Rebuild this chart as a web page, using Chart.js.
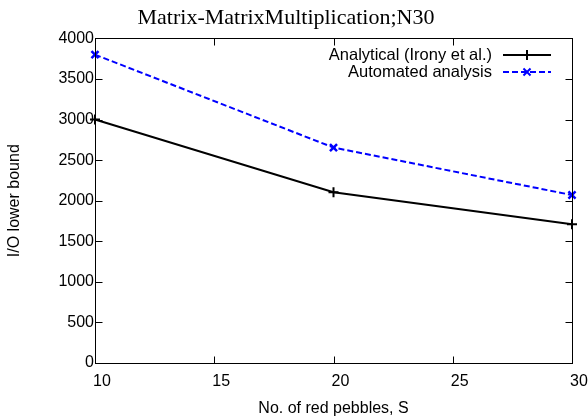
<!DOCTYPE html>
<html lang="en">
<head>
  <meta charset="UTF-8" />
  <title>Matrix-MatrixMultiplication;N30</title>
  <script src="https://cdn.jsdelivr.net/npm/chart.js"></script>
  <style>
    body { margin: 0; background: #fff; }
    #wrap { width: 588px; height: 419px; }
  </style>
</head>
<body>
  <div id="wrap"><canvas id="ioChart" width="588" height="419"></canvas></div>

  <script>
    // values
    const pebbles = [10, 20, 30];
    const analytical = [3000, 2105, 1710];
    const automated = [3800, 2655, 2070];
    const seriesNames = ['Analytical (Irony et al.)', 'Automated analysis'];

    const sans = "'Liberation Sans', Arial, sans-serif";

    // gnuplot-style frame, inward ticks on all four sides, and the key
    const gnuFrame = {
      id: 'gnuFrame',
      afterDraw(chart) {
        const { ctx, scales } = chart;
        const x = scales.x, y = scales.y;
        // frame follows the scales' own end pixels
        const left = Math.round(x.getPixelForValue(x.min)) + 0.5;
        const right = Math.round(x.getPixelForValue(x.max)) + 0.5;
        const top = Math.round(y.getPixelForValue(y.max)) + 0.5;
        const bottom = Math.round(y.getPixelForValue(y.min)) + 0.5;
        ctx.save();
        ctx.strokeStyle = '#000';
        ctx.lineWidth = 1;
        ctx.strokeRect(left, top, right - left, bottom - top);
        const len = 7;
        ctx.beginPath();
        x.ticks.forEach(t => {
          const px = Math.round(x.getPixelForValue(t.value)) + 0.5;
          ctx.moveTo(px, bottom); ctx.lineTo(px, bottom - len);
          ctx.moveTo(px, top); ctx.lineTo(px, top + len);
        });
        y.ticks.forEach(t => {
          const py = Math.round(y.getPixelForValue(t.value)) + 0.5;
          ctx.moveTo(left, py); ctx.lineTo(left + len, py);
          ctx.moveTo(right, py); ctx.lineTo(right - len, py);
        });
        ctx.stroke();

        // key
        ctx.font = '16.5px ' + sans;
        ctx.textAlign = 'right';
        ctx.textBaseline = 'middle';
        chart.data.datasets.forEach((ds, i) => {
          const ky = 55 + i * 17;
          ctx.fillStyle = '#000';
          ctx.fillText(ds.label, 492, ky);
          ctx.strokeStyle = ds.borderColor;
          ctx.lineWidth = 2;
          ctx.setLineDash(ds.borderDash || []);
          ctx.beginPath();
          ctx.moveTo(503, ky); ctx.lineTo(551, ky);
          ctx.stroke();
          ctx.setLineDash([]);
          Chart.helpers.drawPoint(ctx, {
            pointStyle: ds.pointStyle, radius: ds.pointRadius, rotation: 0,
            borderWidth: 2
          }, 527, ky);
        });
        ctx.restore();
      }
    };

    const toPoints = vals => pebbles.map((x, i) => ({ x: x, y: vals[i] }));

    new Chart(document.getElementById('ioChart'), {
      type: 'line',
      data: {
        datasets: [
          {
            label: seriesNames[0],
            data: toPoints(analytical),
            borderColor: '#000',
            backgroundColor: '#000',
            borderWidth: 2,
            pointStyle: 'cross',
            pointRadius: 5,
            pointBorderWidth: 2,
            tension: 0,
            clip: false
          },
          {
            label: seriesNames[1],
            data: toPoints(automated),
            borderColor: '#0000ff',
            backgroundColor: '#0000ff',
            borderWidth: 2,
            borderDash: [6, 3],
            pointStyle: 'crossRot',
            pointRadius: 5,
            pointBorderWidth: 2.5,
            tension: 0,
            clip: false
          }
        ]
      },
      options: {
        responsive: false,
        animation: false,
        events: [],
        layout: { padding: { left: 0, right: 16, top: 0, bottom: 0 } },
        plugins: {
          legend: { display: false },
          tooltip: { enabled: false },
          title: {
            display: true,
            text: 'Matrix-MatrixMultiplication;N30',
            color: '#000',
            font: { family: "'Liberation Serif', 'Times New Roman', serif", size: 22, weight: 'normal' },
            padding: { top: 5, bottom: 7 }
          }
        },
        scales: {
          x: {
            type: 'linear',
            min: 10,
            max: 30,
            grid: { display: false, drawTicks: false },
            border: { display: false },
            ticks: {
              stepSize: 5,
              color: '#000',
              padding: 9,
              labelOffset: 7,
              font: { family: sans, size: 16 },
              callback: v => String(v)
            },
            title: {
              display: true,
              text: 'No. of red pebbles, S',
              color: '#000',
              font: { family: sans, size: 16 },
              padding: { top: 0, bottom: 1 }
            },
            afterFit: s => { s.height = 56; s.paddingLeft = 0; s.paddingRight = 0; }
          },
          y: {
            min: 0,
            max: 4000,
            grid: { display: false, drawTicks: false },
            border: { display: false },
            ticks: {
              stepSize: 500,
              color: '#000',
              padding: 1,
              font: { family: sans, size: 16 },
              callback: v => String(v)
            },
            title: {
              display: true,
              text: 'I/O lower bound',
              color: '#000',
              font: { family: sans, size: 16 },
              padding: { top: 5, bottom: 0 }
            },
            afterFit: s => { s.width = 95; s.paddingTop = 0; s.paddingBottom = 0; }
          }
        }
      },
      plugins: [gnuFrame]
    });
  </script>
</body>
</html>
